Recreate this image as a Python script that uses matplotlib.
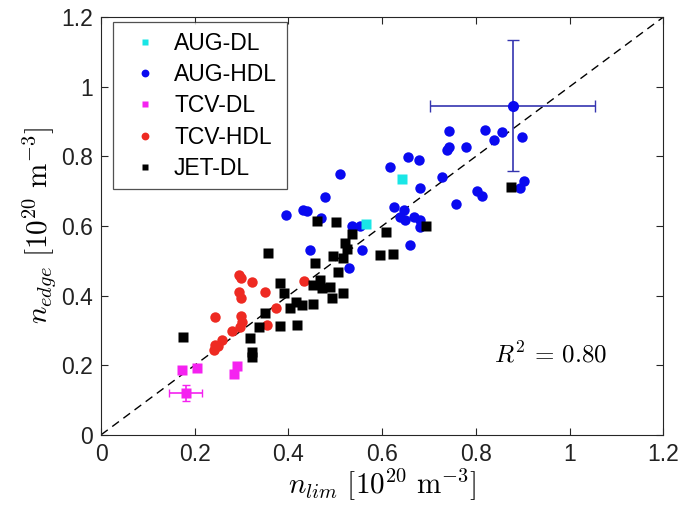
import matplotlib
matplotlib.use("Agg")
import matplotlib.pyplot as plt

plt.rcParams['font.family'] = ['Liberation Sans', 'DejaVu Sans']
plt.rcParams['mathtext.fontset'] = 'cm'

# AUG-DL
aug_dl_x = [0.642, 0.566]
aug_dl_y = [0.734, 0.606]

# AUG-HDL
aug_hdl_x = [0.395, 0.430, 0.439, 0.469, 0.478, 0.509, 0.446, 0.530, 0.535, 0.553,
             0.557, 0.617, 0.656, 0.678, 0.681, 0.626, 0.646, 0.638, 0.649, 0.667,
             0.680, 0.681, 0.659, 0.727, 0.742, 0.738, 0.743, 0.779, 0.758, 0.802,
             0.813, 0.820, 0.838, 0.856, 0.898, 0.903, 0.895]
aug_hdl_y = [0.632, 0.647, 0.644, 0.624, 0.684, 0.748, 0.531, 0.479, 0.600, 0.601,
             0.531, 0.770, 0.799, 0.790, 0.710, 0.654, 0.646, 0.627, 0.617, 0.627,
             0.617, 0.598, 0.545, 0.742, 0.828, 0.818, 0.874, 0.826, 0.663, 0.701,
             0.686, 0.876, 0.847, 0.871, 0.855, 0.730, 0.708]

# TCV-DL
tcv_dl_x = [0.172, 0.204, 0.290, 0.283]
tcv_dl_y = [0.185, 0.191, 0.198, 0.175]

# TCV-HDL
tcv_hdl_x = [0.295, 0.298, 0.322, 0.295, 0.298, 0.350, 0.243, 0.298, 0.300, 0.297,
             0.279, 0.258, 0.243, 0.240, 0.250, 0.374, 0.355, 0.434]
tcv_hdl_y = [0.459, 0.450, 0.440, 0.411, 0.394, 0.410, 0.338, 0.340, 0.325, 0.311,
             0.297, 0.271, 0.258, 0.244, 0.255, 0.364, 0.316, 0.441]

# JET-DL
jet_x = [0.174, 0.357, 0.462, 0.502, 0.535, 0.521, 0.524, 0.496, 0.516, 0.457,
         0.506, 0.383, 0.390, 0.468, 0.453, 0.471, 0.489, 0.494, 0.517, 0.416,
         0.429, 0.453, 0.404, 0.350, 0.338, 0.381, 0.419, 0.318, 0.322, 0.323,
         0.596, 0.624, 0.609, 0.694, 0.875]
jet_y = [0.280, 0.522, 0.613, 0.611, 0.576, 0.552, 0.535, 0.514, 0.507, 0.493,
         0.467, 0.435, 0.407, 0.446, 0.431, 0.422, 0.425, 0.392, 0.407, 0.383,
         0.373, 0.376, 0.364, 0.351, 0.309, 0.314, 0.315, 0.278, 0.237, 0.223,
         0.517, 0.520, 0.583, 0.600, 0.711]

# representative error bars
err_aug = dict(x=0.879, y=0.945, xerr=0.176, yerr=0.188)
err_tcv = dict(x=0.181, y=0.121, xerr=0.035, yerr=0.023)

c_cyan = '#19e6e6'
c_blue = '#0a0af0'
c_mag = '#f522f0'
c_red = '#ee2a22'

fig = plt.figure(figsize=(6.83, 5.05), dpi=100)
ax = fig.add_axes([0.148, 0.139, 0.823, 0.827])

ax.plot([0, 1.2], [0, 1.2], '--', color='k', lw=1.0, dashes=(6, 4), zorder=1)

ax.plot(aug_dl_x, aug_dl_y, 's', color=c_cyan, ms=6.5, mec='none', label='AUG-DL', zorder=3)
ax.plot(aug_hdl_x, aug_hdl_y, 'o', color=c_blue, ms=7.5, mec='none', label='AUG-HDL', zorder=2)
ax.plot(tcv_dl_x, tcv_dl_y, 's', color=c_mag, ms=6.5, mec='none', label='TCV-DL', zorder=3)
ax.plot(tcv_hdl_x, tcv_hdl_y, 'o', color=c_red, ms=7.5, mec='none', label='TCV-HDL', zorder=2)
ax.plot(jet_x, jet_y, 's', color='k', ms=6.5, mec='none', label='JET-DL', zorder=3)

ax.errorbar(err_aug['x'], err_aug['y'], xerr=err_aug['xerr'], yerr=err_aug['yerr'],
            fmt='o', color=c_blue, ecolor='#3535b0', ms=8, mec='none',
            elinewidth=1.2, capsize=4, zorder=4)
ax.errorbar(err_tcv['x'], err_tcv['y'], xerr=err_tcv['xerr'], yerr=err_tcv['yerr'],
            fmt='s', color=c_mag, ecolor=c_mag, ms=6.5, mec='none',
            elinewidth=1.2, capsize=3, zorder=4)

ax.set_xlim(0, 1.2)
ax.set_ylim(0, 1.2)
ticks = [0, 0.2, 0.4, 0.6, 0.8, 1.0, 1.2]
tick_labels = ['0', '0.2', '0.4', '0.6', '0.8', '1', '1.2']
ax.set_xticks(ticks)
ax.set_xticklabels(tick_labels)
ax.set_yticks(ticks)
ax.set_yticklabels(tick_labels)
ax.tick_params(direction='in', top=True, right=True, labelsize=16.5, length=5, width=0.8,
               colors='#262626', labelcolor='#222222', pad=6)
for s in ax.spines.values():
    s.set_color('#262626')
    s.set_linewidth(0.8)

ax.set_xlabel(r'$n_{lim}\ [10^{20}\ \mathrm{m}^{-3}]$', fontsize=21, labelpad=0)
ax.set_ylabel(r'$n_{edge}\ [10^{20}\ \mathrm{m}^{-3}]$', fontsize=21, labelpad=2)

ax.text(0.959, 0.23, r'$R^2\,=\,0.80$', fontsize=18, ha='center', va='center')

leg = ax.legend(loc='upper left', bbox_to_anchor=(0.021, 0.988), fontsize=16.5,
                frameon=True, fancybox=False, edgecolor='#262626', markerscale=0.75,
                handlelength=2.0, handletextpad=0.25, borderpad=0.42, labelspacing=0.36,
                borderaxespad=0.0)
leg.get_frame().set_linewidth(0.9)

fig.savefig('out.png', dpi=100)
